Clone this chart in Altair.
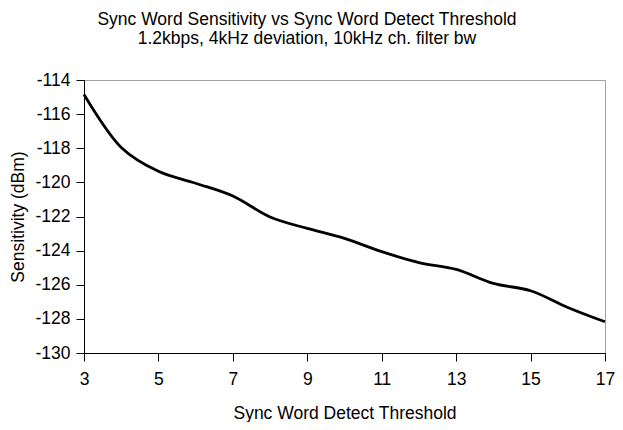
import altair as alt
import pandas as pd

threshold = [3, 4, 5, 6, 7, 8, 9, 10, 11, 12, 13, 14, 15, 16, 17]
sensitivity = [-114.85, -117.95, -119.35, -120.05, -120.8, -122.03, -122.7, -123.28,
               -124.06, -124.7, -125.1, -125.92, -126.35, -127.33, -128.17]
x_ticks = [3, 5, 7, 9, 11, 13, 15, 17]
y_ticks = [-130, -128, -126, -124, -122, -120, -118, -116, -114]
title_lines = ["Sync Word Sensitivity vs Sync Word Detect Threshold",
               "1.2kbps, 4kHz deviation, 10kHz ch. filter bw"]

df = pd.DataFrame({"threshold": threshold, "sensitivity": sensitivity})

FONT = "Liberation Sans, Arial, sans-serif"
FS = 17.5
W, H = 521, 273

chart = alt.Chart(df).mark_line(
    color="black", strokeWidth=2.8, interpolate="catmull-rom"
).encode(
    x=alt.X("threshold:Q",
            scale=alt.Scale(domain=[3, 17], nice=False, zero=False),
            axis=alt.Axis(values=x_ticks, title="Sync Word Detect Threshold",
                          grid=False, tickSize=8, labelPadding=9,
                          titleX=W / 2, titleY=65, titleBaseline="alphabetic",
                          labelFlush=False, labelExpr="'' + datum.value")),
    y=alt.Y("sensitivity:Q",
            scale=alt.Scale(domain=[-130, -114], nice=False, zero=False),
            axis=alt.Axis(values=y_ticks, title="Sensitivity (dBm)",
                          grid=False, tickSize=8, labelPadding=6,
                          titleX=-61, titleY=H / 2, titleBaseline="alphabetic",
                          titleAngle=-90, labelFlush=False,
                          labelExpr="'' + datum.value")),
).properties(
    width=W,
    height=H,
    autosize=alt.AutoSizeParams(type="none"),
    padding={"left": 76, "top": 72, "right": 10, "bottom": 69},
    title=alt.TitleParams(text=title_lines, anchor="middle", dx=-37.5,
                          offset=24, fontWeight="normal", fontSize=FS,
                          font=FONT, color="black", lineHeight=18.5),
).configure_view(
    stroke="#a0a0a0", strokeWidth=1
).configure_axis(
    domainColor="black", tickColor="black", domainWidth=1, tickWidth=1,
    labelFont=FONT, labelFontSize=FS, labelColor="black",
    titleFont=FONT, titleFontSize=FS, titleColor="black", titleFontWeight="normal",
)

chart.save("out.html", embed_options={"renderer": "svg", "actions": False})
